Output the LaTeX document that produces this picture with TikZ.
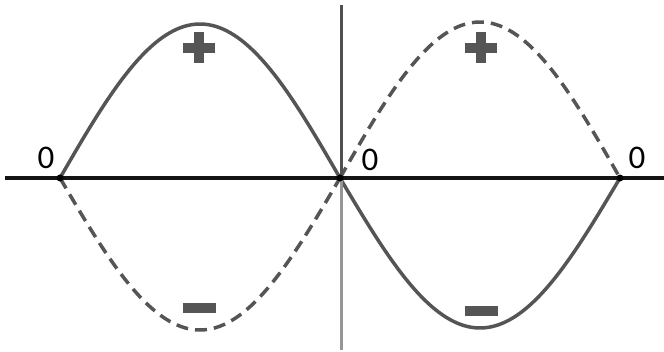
\documentclass[tikz,border=0pt]{standalone}
\usepackage{fontspec}
\setmainfont{Carlito}
\usepackage{tikz}
\usetikzlibrary{positioning,calc}
\definecolor{wavclr}{RGB}{85,85,85}
\definecolor{axclr}{RGB}{20,20,20}
\definecolor{upclr}{RGB}{80,80,80}
\definecolor{lowclr}{RGB}{150,150,150}
\tikzset{
  wave/.style={draw=wavclr,line width=3.5pt},
  wavedash/.style={wave,dash pattern=on 12pt off 7pt},
  zerolbl/.style={font=\fontsize{33}{33}\selectfont,inner sep=0pt,text=black},
  sign/.style={fill=wavclr,draw=none,inner sep=0pt},
  zdot/.style={circle,fill=black,inner sep=0pt,minimum size=7pt},
}
\begin{document}
\begin{tikzpicture}[x=1pt,y=-1pt]
\useasboundingbox (0,0) rectangle (664,352);

% zero crossings
\coordinate (z1) at (60,178);
\coordinate (z2) at (340,178);
\coordinate (z3) at (620,178);

% waves
\draw[wave] plot[domain=60:340,samples=80,smooth] (\x,{178-154*sin((\x-60)/280*180)});
\draw[wavedash] plot[domain=60:340,samples=80,smooth] (\x,{178+152*sin((\x-60)/280*180)});
\draw[wavedash] plot[domain=340:620,samples=80,smooth] (\x,{178-156*sin((\x-340)/280*180)});
\draw[wave] plot[domain=340:620,samples=80,smooth] (\x,{178+150*sin((\x-340)/280*180)});

% axes
\coordinate (vtop) at (341,5);
\coordinate (vbot) at (341,350);
\coordinate (hl) at (5,178);
\coordinate (hr) at (664,178);
\draw[upclr,line width=3pt] (vtop) -- (z2 -| vtop);
\draw[lowclr,line width=3pt] (z2 -| vtop) -- (vbot);
\draw[axclr,line width=4pt] (hl) -- (hr);

\node[zdot] (d1) at (z1) {};
\node[zdot] (d2) at (z2) {};
\node[zdot] (d3) at (z3) {};

% labels
\node[zerolbl] (l1) at (46,158) {0};
\node[zerolbl] (l2) at (370,160) {0};
\node[zerolbl] (l3) at (637,158) {0};

% signs
\node[sign,minimum width=32pt,minimum height=10pt] (p1h) at (199,48) {};
\node[sign,minimum width=10pt,minimum height=31pt] (p1v) at (199,48) {};
\node[sign,minimum width=32pt,minimum height=10pt] (p2h) at (481,48) {};
\node[sign,minimum width=10pt,minimum height=31pt] (p2v) at (481,48) {};
\node[sign,minimum width=33pt,minimum height=10pt] (m1) at (199,308) {};
\node[sign,minimum width=33pt,minimum height=10pt] (m2) at (481,311) {};
\end{tikzpicture}
\end{document}
